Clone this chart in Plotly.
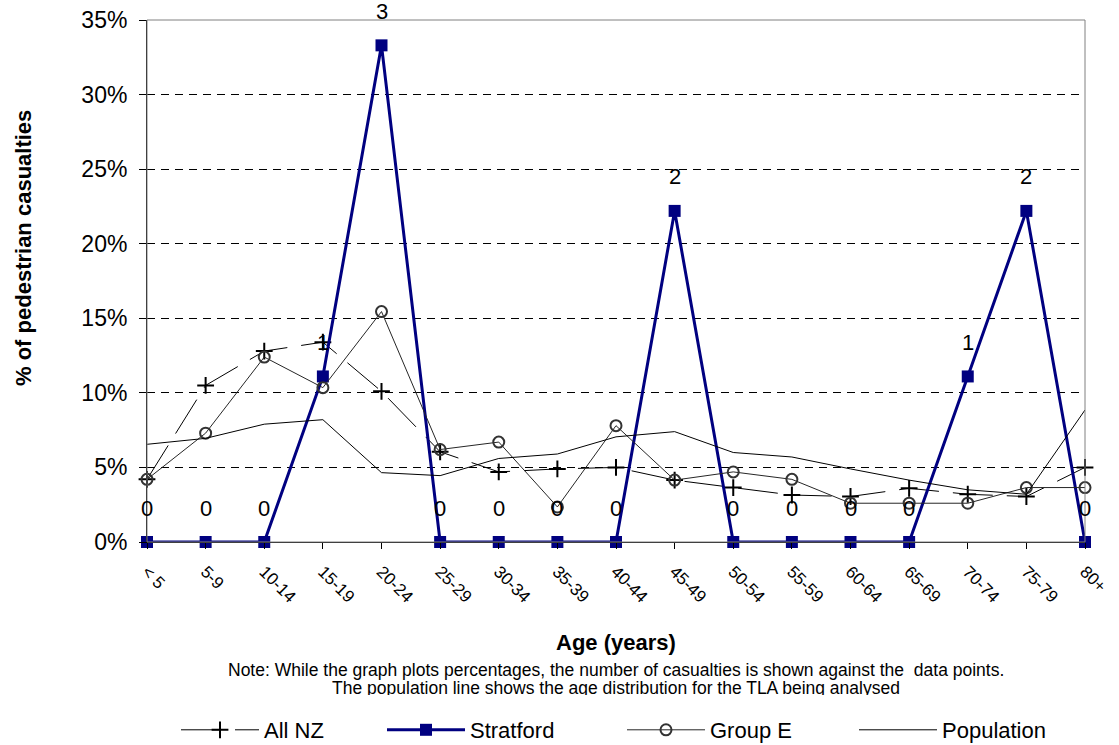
import plotly.graph_objects as go

# Age groups and series values (% of pedestrian casualties)
ages = ["< 5", "5-9", "10-14", "15-19", "20-24", "25-29", "30-34", "35-39", "40-44",
        "45-49", "50-54", "55-59", "60-64", "65-69", "70-74", "75-79", "80+"]
all_nz = [4.2, 10.5, 12.8, 13.4, 10.1, 6.05, 4.7, 4.9, 5.0, 4.15, 3.65, 3.15, 3.05, 3.6, 3.2, 3.05, 5.0]
stratford = [0, 0, 0, 11.1, 33.3, 0, 0, 0, 0, 22.2, 0, 0, 0, 0, 11.1, 22.2, 0]
stratford_counts = [0, 0, 0, 1, 3, 0, 0, 0, 0, 2, 0, 0, 0, 0, 1, 2, 0]
group_e = [4.2, 7.3, 12.4, 10.35, 15.45, 6.2, 6.7, 2.35, 7.8, 4.15, 4.7, 4.2, 2.6, 2.6, 2.6, 3.65, 3.65]
population = [6.55, 6.95, 7.9, 8.2, 4.65, 4.45, 5.6, 5.9, 7.05, 7.4, 6.0, 5.7, 4.9, 4.15, 3.5, 3.2, 8.85]

note1 = "Note: While the graph plots percentages, the number of casualties is shown against the  data points."
note2 = "The population line shows the age distribution for the TLA being analysed"

FONT = "Liberation Sans, Arial, sans-serif"
W, H = 1119, 745
LEFT, RIGHT, TOP, BOTTOM = 147, 1085, 20, 542   # plot area in pixels
AREA_H = H - TOP                     # margin b = 0
AREA_W = RIGHT - LEFT


def py(px):
    # pixel row -> paper y
    return (H - px) / AREA_H


def px_x(px):
    # pixel column -> paper x
    return (px - LEFT) / AREA_W


fig = go.Figure()

fig.add_trace(go.Scatter(
    x=ages, y=all_nz, name="All NZ", mode="lines+markers", legend="legend",
    line=dict(color="black", width=1, dash="40px,14px"),
    marker=dict(symbol="cross-thin", size=12, color="black", line=dict(width=2, color="black")),
    cliponaxis=False))
fig.add_trace(go.Scatter(
    x=ages, y=stratford, name="Stratford", mode="lines+markers", legend="legend2",
    line=dict(color="#000080", width=3),
    marker=dict(symbol="square", size=12, color="#000080"),
    cliponaxis=False))
fig.add_trace(go.Scatter(
    x=ages, y=group_e, name="Group E", mode="lines+markers", legend="legend3",
    line=dict(color="#262626", width=1),
    marker=dict(symbol="circle-open", size=11, color="#333333", line=dict(width=2)),
    cliponaxis=False))
fig.add_trace(go.Scatter(
    x=ages, y=population, name="Population", mode="lines", legend="legend4",
    line=dict(color="black", width=1),
    cliponaxis=False))

# second note line sits in a thin hidden subplot so its lower part is clipped
fig.add_trace(go.Scatter(
    x=[0.5], y=[0.26], text=[note2], mode="text", textposition="middle center",
    textfont=dict(size=17.5, color="black", family=FONT),
    xaxis="x2", yaxis="y2", showlegend=False, hoverinfo="skip", cliponaxis=True))

# casualty counts above the Stratford points
for a, v, c in zip(ages, stratford, stratford_counts):
    fig.add_annotation(x=a, y=v, text=str(c), showarrow=False, yshift=34,
                       xanchor="center", yanchor="middle",
                       font=dict(size=22, color="black", family=FONT))

fig.add_annotation(text="<b>% of pedestrian casualties</b>", textangle=-90,
                   xref="paper", yref="paper", x=0, y=py(248), xshift=23 - LEFT,
                   xanchor="center", yanchor="middle",
                   showarrow=False, font=dict(size=22, color="black", family=FONT))
fig.add_annotation(text="<b>Age (years)</b>", xref="paper", yref="paper", x=0.5, y=py(642),
                   xanchor="center", yanchor="middle",
                   showarrow=False, font=dict(size=22, color="black", family=FONT))
fig.add_annotation(text=note1, xref="paper", yref="paper", x=0.5, y=py(670),
                   xanchor="center", yanchor="middle",
                   showarrow=False, font=dict(size=17.5, color="black", family=FONT))

# grey border round the plot area
fig.add_shape(type="rect", xref="x domain", yref="y domain", x0=0, x1=1, y0=0, y1=1,
              line=dict(color="#808080", width=1), layer="above")

legend_common = dict(orientation="h", y=py(730), yanchor="middle", xanchor="left",
                     bgcolor="rgba(0,0,0,0)", itemwidth=78,
                     font=dict(size=22, color="black", family=FONT))

fig.update_layout(
    width=W, height=H,
    margin=dict(l=LEFT, r=W - RIGHT, t=TOP, b=0, autoexpand=False),
    paper_bgcolor="white", plot_bgcolor="white",
    font=dict(family=FONT, color="black"),
    xaxis=dict(type="category", categoryorder="array", categoryarray=ages, range=[0, 16],
               showline=True, linecolor="black", linewidth=1, ticks="outside", ticklen=6,
               tickcolor="black", tickangle=45, tickfont=dict(size=17), ticklabelstandoff=6,
               ticklabeloverflow="allow",
               showgrid=False, zeroline=False, automargin=False),
    yaxis=dict(domain=[py(BOTTOM), 1], range=[0, 35], dtick=5, ticksuffix="%",
               showline=True, linecolor="black", linewidth=1, ticks="outside", ticklen=7,
               tickcolor="black", tickfont=dict(size=23), ticklabelstandoff=7,
               ticklabeloverflow="allow",
               showgrid=True, gridcolor="black", gridwidth=1, griddash="8px,6px",
               zeroline=False, automargin=False),
    xaxis2=dict(domain=[0, 1], range=[0, 1], anchor="y2", visible=False),
    yaxis2=dict(domain=[py(695), py(676)], range=[0, 1], anchor="x2", visible=False),
    legend=dict(legend_common, x=px_x(176)),
    legend2=dict(legend_common, x=px_x(382)),
    legend3=dict(legend_common, x=px_x(622)),
    legend4=dict(legend_common, x=px_x(854)),
    showlegend=True,
)

# drop the page's default body margin so the figure fills the window exactly
fig.write_html("out.html", config={"displayModeBar": False},
               post_script="document.body.style.margin = '0';")
